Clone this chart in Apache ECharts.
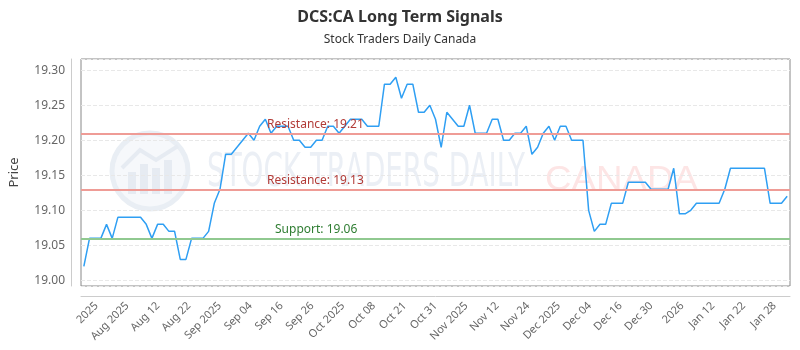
<!DOCTYPE html>
<html>
<head>
<meta charset="utf-8">
<script src="https://cdn.jsdelivr.net/npm/echarts@6/dist/echarts.min.js"></script>
<style>html,body{margin:0;padding:0;background:#fff}#c{width:800px;height:350px}</style>
</head>
<body>
<div id="c"></div>
<script>
const titleText = 'DCS:CA Long Term Signals';
const subtitleText = 'Stock Traders Daily Canada';
const tickLabels = ['2025','Aug 2025','Aug 12','Aug 22','Sep 2025','Sep 04','Sep 16','Sep 26','Oct 2025','Oct 08','Oct 21','Oct 31','Nov 2025','Nov 12','Nov 24','Dec 2025','Dec 04','Dec 16','Dec 30','2026','Jan 12','Jan 22','Jan 28'];
const prices = [
  19.02,19.06,19.06,19.06,19.08,19.06,19.09,19.09,19.09,19.09,
  19.09,19.08,19.06,19.08,19.08,19.07,19.07,19.03,19.03,19.06,
  19.06,19.06,19.07,19.11,19.13,19.18,19.18,19.19,19.20,19.21,
  19.20,19.22,19.23,19.21,19.22,19.22,19.22,19.20,19.20,19.19,
  19.19,19.20,19.20,19.22,19.22,19.21,19.22,19.23,19.23,19.23,
  19.22,19.22,19.22,19.28,19.28,19.29,19.26,19.28,19.28,19.24,
  19.24,19.25,19.23,19.19,19.24,19.23,19.22,19.22,19.25,19.21,
  19.21,19.21,19.23,19.23,19.20,19.20,19.21,19.21,19.22,19.18,
  19.19,19.21,19.22,19.20,19.22,19.22,19.20,19.20,19.20,19.10,
  19.07,19.08,19.08,19.11,19.11,19.11,19.14,19.14,19.14,19.14,
  19.13,19.13,19.13,19.13,19.16,19.095,19.095,19.10,19.11,19.11,
  19.11,19.11,19.11,19.13,19.16,19.16,19.16,19.16,19.16,19.16,
  19.16,19.11,19.11,19.11,19.12
];
const levelNames = ['Resistance', 'Resistance', 'Support'];
const levelValues = [19.21, 19.13, 19.06];
const levelKinds = ['res', 'res', 'sup'];
const yMin = 18.992, yMax = 19.316;

const chart = echarts.init(document.getElementById('c'), null, {renderer: 'canvas'});
const FONT = 'Noto Sans';
const levelStyle = {
  res: {line: '#ef9c96', text: '#b23b37', dist: 186},
  sup: {line: '#90c990', text: '#2f7d32', dist: 194}
};
const markData = levelValues.map((v, i) => {
  const s = levelStyle[levelKinds[i]];
  return {
    yAxis: v,
    lineStyle: {color: s.line, width: 2, type: 'solid'},
    label: {
      show: true,
      position: 'insideStartTop',
      distance: [s.dist, 3],
      formatter: levelNames[i] + ': ' + v.toFixed(2),
      color: s.text,
      fontSize: 12,
      fontFamily: FONT
    }
  };
});

// watermark sizing
const mctx = document.createElement('canvas').getContext('2d');
function fitScale(text, font, width) { mctx.font = font; return width / mctx.measureText(text).width; }
const wm1Font = '46px "Liberation Sans Narrow", "DejaVu Sans Condensed", "Liberation Sans", sans-serif';
const wm2Font = '35px "Liberation Sans", sans-serif';
const wm1Text = 'STOCK TRADERS DAILY', wm2Text = 'CANADA';
const wm1Scale = fitScale(wm1Text, wm1Font, 318);
const wm2Scale = fitScale(wm2Text, wm2Font, 153);

chart.setOption({
  animation: false,
  backgroundColor: '#fff',
  title: {
    text: titleText,
    subtext: subtitleText,
    left: 'center',
    top: 4,
    itemGap: 9,
    textStyle: {fontSize: 16, fontWeight: 'bold', color: '#333', fontFamily: FONT},
    subtextStyle: {fontSize: 12, color: '#333', fontFamily: FONT}
  },
  graphic: [
    {type: 'circle', silent: true, z: -1, shape: {cx: 150, cy: 171, r: 38},
     style: {fill: '#f6f8fb', stroke: '#e9eef4', lineWidth: 5}},
    {type: 'group', silent: true, z: -1, children: [
      {type: 'rect', shape: {x: 128, y: 172, width: 8, height: 22}, style: {fill: '#e6ebf2'}},
      {type: 'rect', shape: {x: 140, y: 164, width: 8, height: 30}, style: {fill: '#e6ebf2'}},
      {type: 'rect', shape: {x: 152, y: 168, width: 8, height: 26}, style: {fill: '#e6ebf2'}},
      {type: 'rect', shape: {x: 164, y: 160, width: 8, height: 34}, style: {fill: '#e6ebf2'}},
      {type: 'polyline', shape: {points: [[122, 168], [140, 150], [156, 160], [178, 146]]}, style: {stroke: '#e6ebf2', lineWidth: 4, fill: null}}
    ]},
    {type: 'text', silent: true, z: -1, x: 207, y: 174, scaleX: wm1Scale,
     style: {text: wm1Text, font: wm1Font, fill: '#ebeff5', verticalAlign: 'middle', align: 'left'}},
    {type: 'text', silent: true, z: -1, x: 545, y: 180, scaleX: wm2Scale,
     style: {text: wm2Text, font: wm2Font, fill: '#fde5e5', verticalAlign: 'middle', align: 'left'}}
  ],
  grid: {left: 77, right: 10, top: 59, bottom: 64, show: true, borderColor: '#888', borderWidth: 1},
  xAxis: [
    {type: 'category', data: prices.map((_, i) => i), boundaryGap: true, show: false, gridIndex: 0},
    {type: 'category', data: tickLabels, boundaryGap: true, position: 'bottom', offset: 10, gridIndex: 0,
     axisLine: {show: true, lineStyle: {color: '#ccc'}},
     axisTick: {show: false},
     axisLabel: {rotate: 45, color: '#666', fontSize: 11, fontFamily: FONT, margin: 8, interval: 0},
     splitLine: {show: false}}
  ],
  yAxis: {
    type: 'value', min: yMin, max: yMax, offset: 10,
    name: 'Price', nameLocation: 'middle', nameGap: 50,
    nameTextStyle: {fontSize: 13, color: '#444', fontFamily: FONT},
    axisLine: {show: true, lineStyle: {color: '#ccc'}},
    axisTick: {show: false},
    axisLabel: {color: '#666', fontSize: 12, fontFamily: FONT, margin: 6, showMinLabel: false, showMaxLabel: false,
      formatter: v => v.toFixed(2)},
    splitLine: {show: true, lineStyle: {color: '#e8e8e8', type: 'dashed'}}
  },
  series: [{
    type: 'line', data: prices, xAxisIndex: 0, showSymbol: false, symbol: 'none',
    lineStyle: {color: '#2f9ff3', width: 1.5},
    itemStyle: {color: '#2f9ff3'},
    markLine: {silent: true, symbol: 'none', animation: false, data: markData}
  }]
});
</script>
</body>
</html>
